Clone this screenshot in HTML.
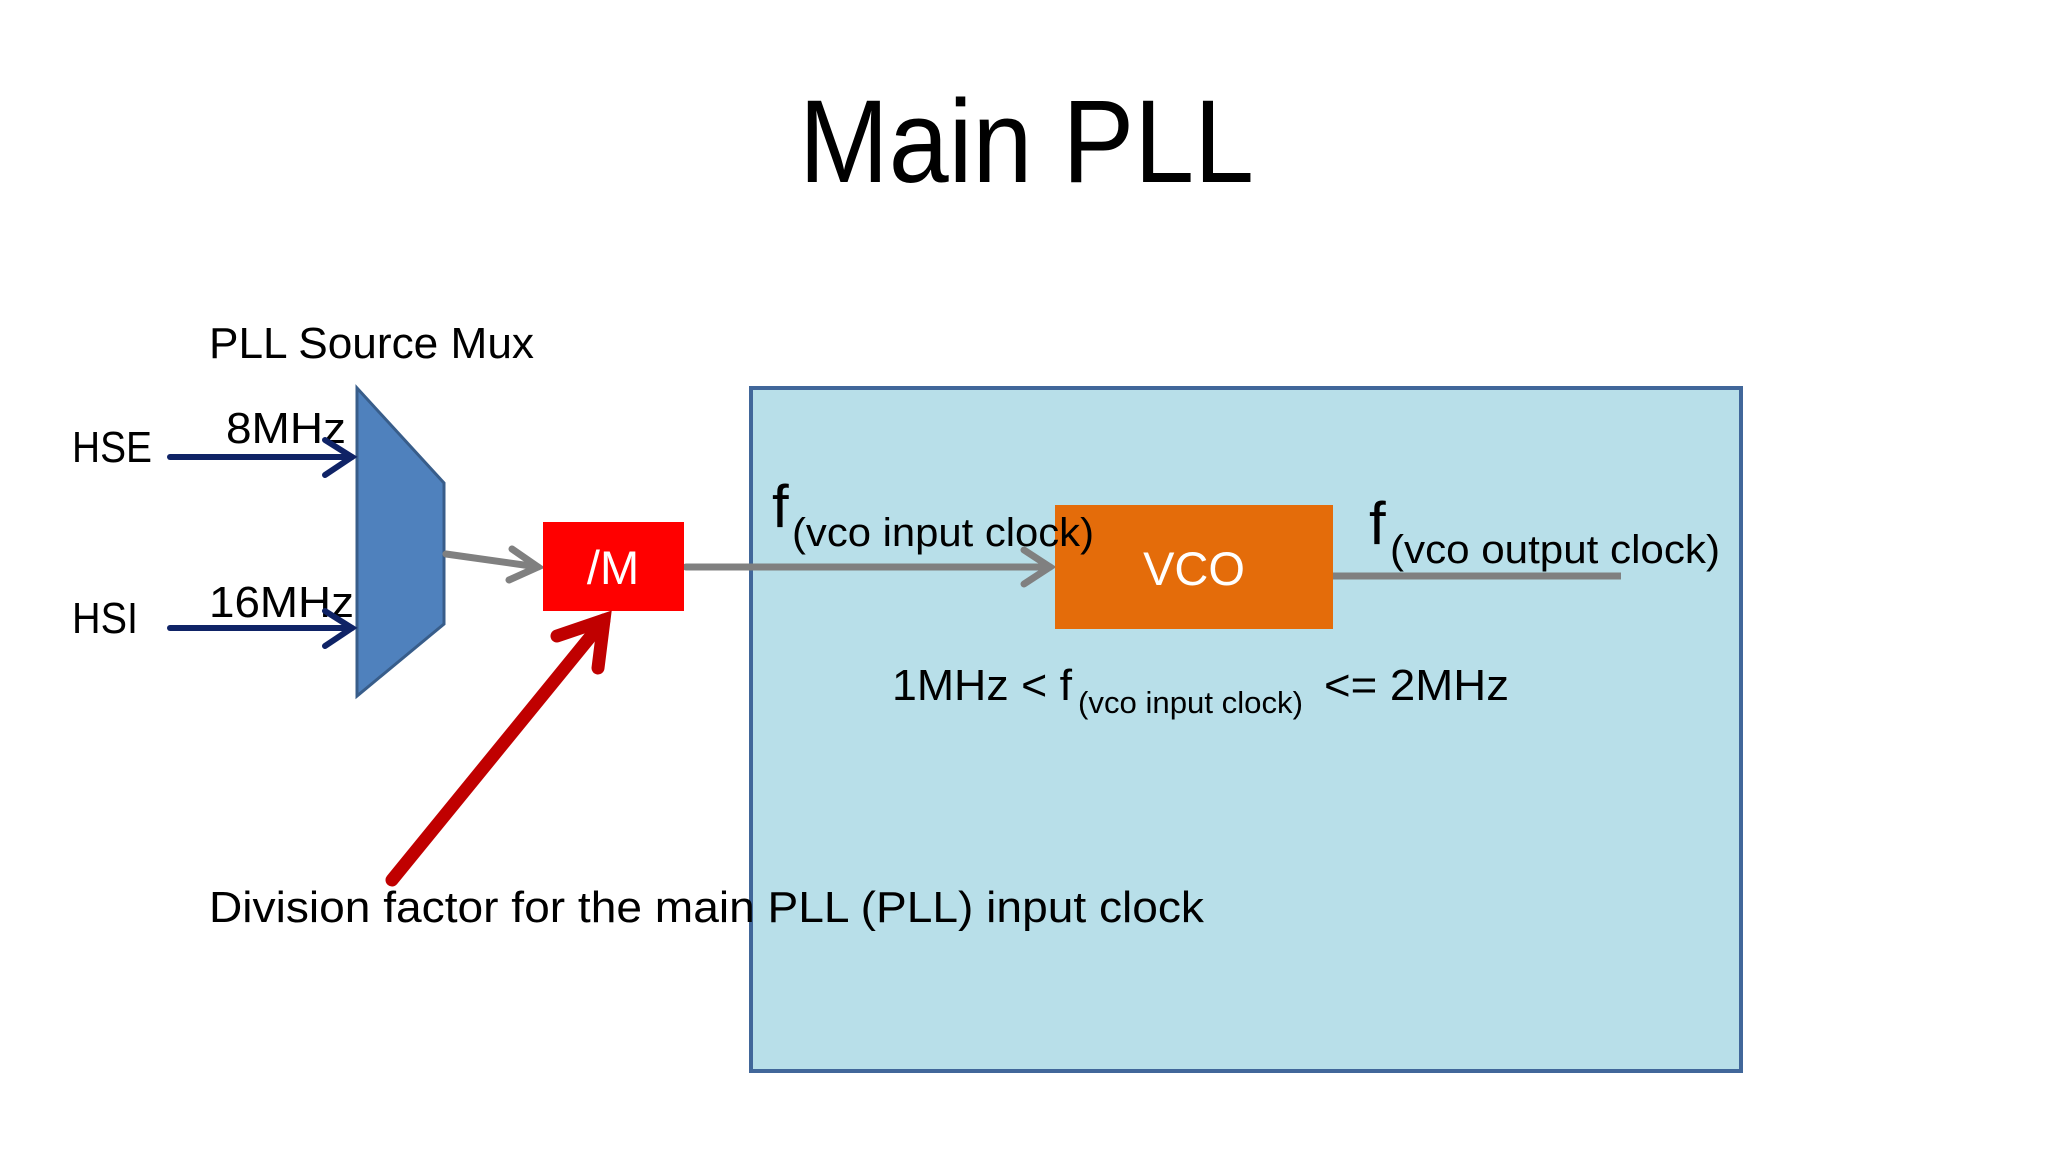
<!DOCTYPE html>
<html><head><meta charset="utf-8"><style>html,body{margin:0;padding:0;background:#fff}svg{display:block}</style></head>
<body>
<svg width="2048" height="1152" viewBox="0 0 2048 1152" xmlns="http://www.w3.org/2000/svg" font-family="Liberation Sans, sans-serif">
<rect width="2048" height="1152" fill="#fff"/>
<text x="799" y="182" font-size="118" textLength="455" lengthAdjust="spacingAndGlyphs" fill="#000">Main PLL</text>
<rect x="751" y="388" width="990" height="683" fill="#b8dfe9" stroke="#41679a" stroke-width="4"/>
<text x="209" y="358" font-size="44" textLength="325" lengthAdjust="spacingAndGlyphs">PLL Source Mux</text>
<polygon points="357,388 444,483 444,624 357,696" fill="#4f81bd" stroke="#385d8a" stroke-width="3"/>
<text x="72" y="462" font-size="44" textLength="80" lengthAdjust="spacingAndGlyphs">HSE</text>
<text x="226" y="443" font-size="44" textLength="120" lengthAdjust="spacingAndGlyphs">8MHz</text>
<text x="72" y="633" font-size="44" textLength="66" lengthAdjust="spacingAndGlyphs">HSI</text>
<text x="209" y="617" font-size="44" textLength="145" lengthAdjust="spacingAndGlyphs">16MHz</text>
<g stroke="#0f2366" stroke-width="6" fill="none" stroke-linecap="round">
<line x1="170" y1="457" x2="352" y2="457"/><polyline points="325,440 352,457 325,475"/>
<line x1="170" y1="628" x2="352" y2="628"/><polyline points="325,611 352,628 325,646"/>
</g>
<g stroke="#808080" stroke-width="7" fill="none" stroke-linecap="round">
<line x1="446" y1="554" x2="538" y2="567"/><polyline points="512,549 538,567 509,580"/>
<line x1="686" y1="567" x2="1050" y2="567"/><polyline points="1024,550 1050,567 1024,584"/>
<line x1="1333" y1="576" x2="1621" y2="576" stroke-linecap="butt"/>
</g>
<rect x="543" y="522" width="141" height="89" fill="#ff0000"/>
<text x="613" y="584" font-size="47" fill="#fff" text-anchor="middle">/M</text>
<rect x="1055" y="505" width="278" height="124" fill="#e46c0a"/>
<text x="1194" y="585" font-size="47" fill="#fff" text-anchor="middle">VCO</text>
<text x="772" y="527" font-size="60">f</text>
<text x="792" y="546" font-size="40" textLength="302" lengthAdjust="spacingAndGlyphs">(vco input clock)</text>
<text x="1369" y="544" font-size="60">f</text>
<text x="1390" y="563" font-size="40" textLength="330" lengthAdjust="spacingAndGlyphs">(vco output clock)</text>
<text x="892" y="700" font-size="44" textLength="180" lengthAdjust="spacingAndGlyphs">1MHz &lt; f</text>
<text x="1078" y="713" font-size="31" textLength="225" lengthAdjust="spacingAndGlyphs">(vco input clock)</text>
<text x="1324" y="700" font-size="44" textLength="185" lengthAdjust="spacingAndGlyphs">&lt;= 2MHz</text>
<g stroke="#c00000" stroke-width="13" fill="none" stroke-linecap="round">
<line x1="392" y1="880" x2="604" y2="620"/><polyline points="557,636 604,620 598,668"/>
</g>
<text x="209" y="922" font-size="44" textLength="995" lengthAdjust="spacingAndGlyphs">Division factor for the main PLL (PLL) input clock</text>
</svg>
</body></html>
